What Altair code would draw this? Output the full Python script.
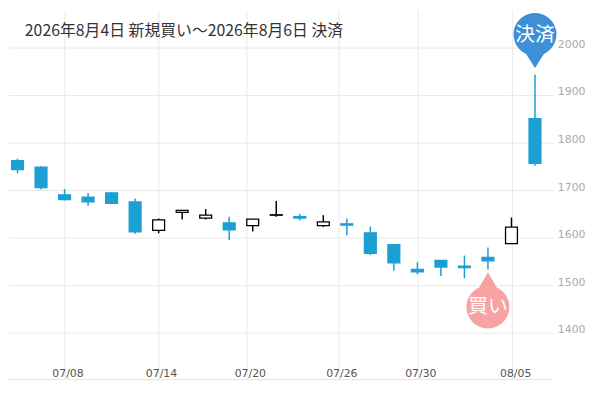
import altair as alt
import pandas as pd
import numpy as np

# candle data (one per trading session, left to right)
opens  = [1762, 1748, 1690, 1685, 1694, 1675, 1615, 1653, 1641, 1631, 1625, 1647,
          1644, 1625, 1629, 1610, 1585, 1533, 1552, 1540, 1558, 1587, 1850]
highs  = [1766, 1750, 1702, 1694, 1695, 1682, 1640, 1657, 1660, 1644, 1639, 1677,
          1650, 1647, 1640, 1623, 1585, 1548, 1552, 1562, 1579, 1642, 1943]
lows   = [1735, 1701, 1678, 1667, 1670, 1608, 1609, 1638, 1638, 1595, 1613, 1644,
          1636, 1622, 1605, 1563, 1530, 1523, 1519, 1514, 1533, 1587, 1751]
closes = [1743, 1705, 1680, 1675, 1672, 1612, 1637, 1657, 1647, 1616, 1639, 1648,
          1641, 1633, 1626, 1567, 1547, 1528, 1538, 1537, 1551, 1622, 1756]

tick_pos = [2.0, 5.975, 9.75, 13.64, 17.0, 21.03]
tick_labels = ["07/08", "07/14", "07/20", "07/26", "07/30", "08/05"]
y_ticks = [1400, 1500, 1600, 1700, 1800, 1900, 2000]

pin_labels = ["買い", "決済"]
pin_idx = [20, 22]

title_text = "2026年8月4日 新規買い～2026年8月6日 決済"

BLUE = "#1c9fd3"
PIN_BLUE = "#3d8fd6"
PIN_PINK = "#f7a3a4"

df = pd.DataFrame({"i": list(range(len(opens))), "open": opens, "high": highs,
                   "low": lows, "close": closes})
df["dir"] = np.where(df["close"] >= df["open"], "up", "down")

pins = pd.DataFrame({"label": pin_labels, "i": pin_idx,
                     "v": [lows[pin_idx[0]], highs[pin_idx[1]]],
                     "kind": ["buy", "sell"]})

lbl_arr = "[" + ",".join(f"'{t}'" for t in tick_labels) + "]"
pos_arr = "[" + ",".join(str(p) for p in tick_pos) + "]"

xscale = alt.Scale(domain=[-0.194, 22.53], nice=False, zero=False)
yscale = alt.Scale(domain=[1302, 2079], nice=False, zero=False)

xaxis = alt.Axis(values=tick_pos, labelExpr=f"{lbl_arr}[indexof({pos_arr}, datum.value)]",
                 grid=True, gridColor="#e9e9e9", domainColor="#e2e2e2", ticks=False,
                 tickSize=0, labelPadding=-3, labelBaseline="alphabetic",
                 labelFontSize=11, labelColor="#555555", labelFont="DejaVu Sans",
                 labelOffset=3, labelOverlap=False, labelFlush=False, title=None)
yaxis = alt.Axis(orient="right", values=y_ticks, format="d", grid=True, gridColor="#e9e9e9",
                 domain=False, ticks=False, tickSize=0, labelPadding=5,
                 labelBaseline="alphabetic", labelColor="#aaaaaa", labelFontSize=11,
                 labelFont="DejaVu Sans", title=None)

dir_col = alt.Scale(domain=["up", "down"], range=["#000000", BLUE])
dir_fill = alt.Scale(domain=["up", "down"], range=["#ffffff", BLUE])

wicks = alt.Chart(df).mark_rule(strokeWidth=1.5).encode(
    x=alt.X("i:Q", scale=xscale, axis=xaxis),
    y=alt.Y("low:Q", scale=yscale, axis=yaxis),
    y2="high:Q",
    color=alt.Color("dir:N", scale=dir_col, legend=None),
)

bodies = alt.Chart(df).mark_bar(size=12, strokeWidth=1.3).encode(
    x="i:Q",
    y="open:Q",
    y2="close:Q",
    fill=alt.Fill("dir:N", scale=dir_fill, legend=None),
    stroke=alt.Stroke("dir:N", scale=dir_col, legend=None),
)

sell_path = "M0,0L-0.9,-1.425A2.17,2.17,0,1,1,0.9,-1.425Z"
buy_path = "M0,0L-0.9,1.525A2.17,2.17,0,1,0,0.9,1.525Z"

sell_pin = alt.Chart(pins).transform_filter("datum.kind == 'sell'").mark_point(
    shape=sell_path, size=400, filled=True, opacity=1, color=PIN_BLUE, yOffset=-6.6
).encode(x="i:Q", y="v:Q")
buy_pin = alt.Chart(pins).transform_filter("datum.kind == 'buy'").mark_point(
    shape=buy_path, size=400, filled=True, opacity=1, color=PIN_PINK, yOffset=3
).encode(x="i:Q", y="v:Q")

sell_txt = alt.Chart(pins).transform_filter("datum.kind == 'sell'").mark_text(
    color="white", fontSize=20, font="Noto Sans CJK JP", baseline="middle",
    align="center", yOffset=-40
).encode(x="i:Q", y="v:Q", text="label:N")
buy_txt = alt.Chart(pins).transform_filter("datum.kind == 'buy'").mark_text(
    color="white", fontSize=20, font="Noto Sans CJK JP", baseline="middle",
    align="center", yOffset=38.5
).encode(x="i:Q", y="v:Q", text="label:N")

title = alt.Chart(pd.DataFrame({"t": [title_text]})).mark_text(
    align="left", baseline="middle", fontSize=16, color="#333333",
    font="Noto Sans CJK JP"
).encode(x=alt.value(17), y=alt.value(21), text="t:N")

chart = alt.layer(wicks, bodies, sell_pin, buy_pin, sell_txt, buy_txt, title).properties(
    width=550, height=373,
    autosize=alt.AutoSizeParams(type="none"),
    padding={"left": 0, "top": 0, "right": 40, "bottom": 10},
).configure(background="white").configure_view(stroke=None)

chart.save("out.html", embed_options={"renderer": "svg", "actions": False})
